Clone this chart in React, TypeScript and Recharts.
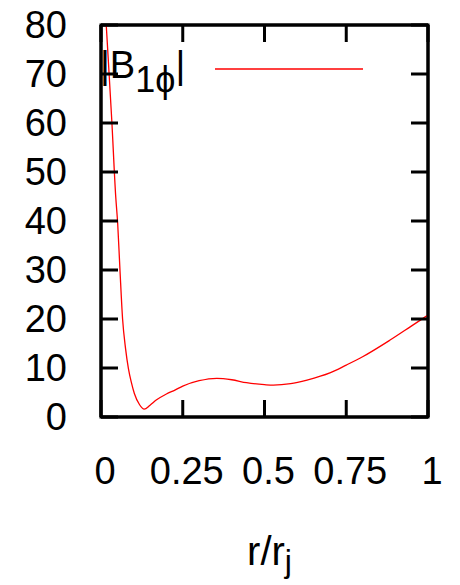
import React from 'react';
import { LineChart, Line, XAxis, YAxis, ReferenceArea } from 'recharts';

// Radial profile of |B_1ϕ| versus normalised radius r/r_j
const radius = [
  0, 0.016, 0.033, 0.045, 0.051, 0.058, 0.066, 0.075, 0.084, 0.093, 0.102, 0.118,
  0.132, 0.15, 0.17, 0.2, 0.226, 0.25, 0.3, 0.354, 0.4, 0.445, 0.5, 0.527, 0.58,
  0.63, 0.7, 0.75, 0.8, 0.884, 0.95, 1.0,
];
const fieldMagnitude = [
  98, 80, 60.5, 45, 39.5, 30, 20, 14, 9.8, 7, 4.8, 2.5,
  1.6, 2.4, 3.5, 4.7, 5.5, 6.3, 7.4, 7.9, 7.6, 7.0, 6.6, 6.5, 6.8,
  7.55, 9.0, 10.6, 12.3, 15.7, 18.6, 20.8,
];
const xTicks = [0, 0.25, 0.5, 0.75, 1];
const yTicks = [0, 10, 20, 30, 40, 50, 60, 70, 80];
const xTickLabels = ['0', '0.25', '0.5', '0.75', '1'];

const data = radius.map((r, i) => ({ r, b: fieldMagnitude[i] }));

const FONT = '"Liberation Sans", Arial, Helvetica, sans-serif';
const RED = '#ff0000';
const frame = { stroke: '#000', strokeWidth: 3 };

type Box = { x: number; y: number; width: number; height: number };
type TickProps = { x: number; y: number; payload: { value: number } };

function BottomTick({ x, y, payload }: TickProps) {
  const i = xTicks.indexOf(payload.value);
  return (
    <text x={x + 4} y={y} dy="0.71em" textAnchor="middle" fontSize={38} fontFamily={FONT} fill="#000">
      {i >= 0 ? xTickLabels[i] : String(payload.value)}
    </text>
  );
}

function LeftTick({ x, y, payload }: TickProps) {
  return (
    <text x={x} y={y} dy="0.355em" textAnchor="end" fontSize={38} fontFamily={FONT} fill="#000">
      {String(payload.value)}
    </text>
  );
}

const EmptyTick = () => <g />;

// Key drawn just under the top border: |B_1ϕ| followed by the line sample
function KeyContent(props: { viewBox?: Box }) {
  const vb = props.viewBox as Box;
  if (!vb) return null;
  const left = vb.x;
  const top = vb.y + vb.height;
  return (
    <g fontFamily={FONT}>
      <text x={left - 1} y={top + 53} fontSize={38} fill="#000">
        |B<tspan dy={14} fontSize={36}>1ϕ</tspan>
        <tspan dy={-14} fontSize={38}>|</tspan>
      </text>
      <line x1={left + 114} y1={top + 44} x2={left + 262} y2={top + 44} stroke={RED} strokeWidth={1.3} />
    </g>
  );
}

// Axis title r/r_j centred below the tick labels
function TitleContent(props: { viewBox?: Box }) {
  const vb = props.viewBox as Box;
  if (!vb) return null;
  return (
    <text x={vb.x + vb.width / 2 + 5} y={vb.y + 148} fontSize={40} fill="#000" fontFamily={FONT} textAnchor="middle">
      r/r<tspan dy={7} fontSize={32}>j</tspan>
    </text>
  );
}

export default function App() {
  return (
    <div style={{ position: 'absolute', left: 0, top: 0, background: '#fff' }}>
      <LineChart
        width={460}
        height={585}
        data={data}
        margin={{ top: 24, right: 31, bottom: 0, left: 0 }}
      >
        <XAxis
          xAxisId="bottom"
          dataKey="r"
          type="number"
          domain={[0, 1]}
          ticks={xTicks}
          interval={0}
          height={168}
          tickSize={-17}
          tickMargin={57}
          stroke="#000"
          axisLine={frame}
          tickLine={frame}
          tick={BottomTick}
          label={{ content: TitleContent }}
        />
        <XAxis
          xAxisId="top"
          orientation="top"
          dataKey="r"
          type="number"
          domain={[0, 1]}
          ticks={xTicks}
          interval={0}
          height={1}
          tickSize={-17}
          stroke="#000"
          axisLine={frame}
          tickLine={frame}
          tick={EmptyTick}
          label={{ content: KeyContent }}
        />
        <YAxis
          yAxisId="left"
          type="number"
          domain={[0, 80]}
          ticks={yTicks}
          interval={0}
          allowDataOverflow
          width={101}
          tickSize={-17}
          tickMargin={51}
          stroke="#000"
          axisLine={frame}
          tickLine={frame}
          tick={LeftTick}
        />
        <YAxis
          yAxisId="right"
          orientation="right"
          dataKey="b"
          type="number"
          domain={[0, 80]}
          ticks={yTicks}
          interval={0}
          allowDataOverflow
          width={1}
          tickSize={-17}
          stroke="#000"
          axisLine={frame}
          tickLine={frame}
          tick={EmptyTick}
        />
        <ReferenceArea
          xAxisId="bottom"
          yAxisId="left"
          x1={0}
          x2={1}
          y1={0}
          y2={80}
          fill="none"
          fillOpacity={0}
          stroke="#000"
          strokeWidth={3}
          ifOverflow="visible"
        />
        <Line
          xAxisId="bottom"
          yAxisId="left"
          dataKey="b"
          type="monotone"
          stroke={RED}
          strokeWidth={1.3}
          dot={false}
          isAnimationActive={false}
        />
      </LineChart>
    </div>
  );
}
